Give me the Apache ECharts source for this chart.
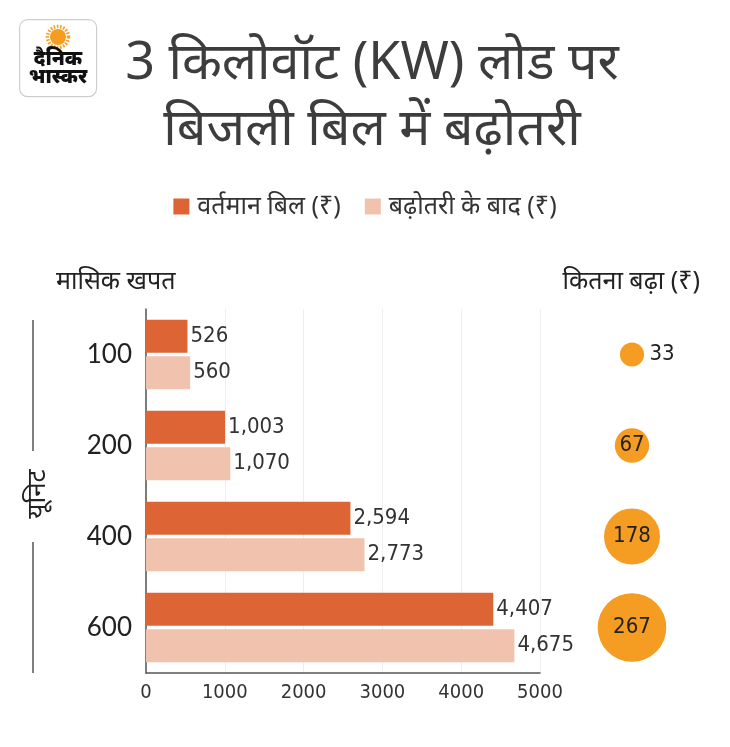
<!DOCTYPE html>
<html>
<head>
<meta charset="utf-8">
<title>3 किलोवॉट (KW) लोड पर बिजली बिल में बढ़ोतरी</title>
<script src="https://cdn.jsdelivr.net/npm/echarts@6/dist/echarts.min.js"></script>
<style>
  html, body { margin: 0; padding: 0; background: #fff; }
  #chart { width: 730px; height: 747px; }
</style>
</head>
<body>
<div id="chart"></div>
<script>
// units per month
const units = ['100', '200', '400', '600']
// current bill (₹)
const currentBill = [526, 1003, 2594, 4407]
// bill after the hike (₹)
const newBill = [560, 1070, 2773, 4675]
// how much it went up (₹)
const hike = [33, 67, 178, 267]
const xTicks = [0, 1000, 2000, 3000, 4000, 5000]

const dark = '#DD6535'
const light = '#F1C2AE'
const sun = '#F59C22'
const narrow = "'DejaVu Sans Condensed', 'Liberation Sans Narrow', 'Roboto', sans-serif"
const hindi = "'Noto Sans', 'Noto Sans Devanagari', sans-serif"

const fmt = v => v.toLocaleString('en-US')

const chart = echarts.init(document.getElementById('chart'))

const option = {
  backgroundColor: '#fff',
  animation: false,
  title: {
    text: '3 किलोवॉट (KW) लोड पर\nबिजली बिल में बढ़ोतरी',
    left: 367,
    top: 26,
    textAlign: 'center',
    textStyle: { fontFamily: hindi, fontSize: 52, fontWeight: 'normal', color: '#3d3d3d', lineHeight: 66 }
  },
  legend: {
    top: 189,
    left: 'center',
    itemWidth: 16,
    itemHeight: 16,
    itemGap: 24,
    icon: 'rect',
    textStyle: { fontFamily: hindi, fontSize: 25, color: '#333', padding: [0, 0, 0, 3] },
    data: ['वर्तमान बिल (₹)', 'बढ़ोतरी के बाद (₹)']
  },
  grid: [
    { left: 146, right: 190, top: 309, bottom: 74 },
    { left: 562, right: 28, top: 309, bottom: 74 }
  ],
  xAxis: [
    {
      type: 'value',
      gridIndex: 0,
      min: xTicks[0],
      max: xTicks[xTicks.length - 1],
      interval: 1000,
      axisLine: { show: true, lineStyle: { color: '#555', width: 1.5 } },
      axisTick: { show: false },
      splitLine: { show: true, lineStyle: { color: '#eeeeee' } },
      axisLabel: { fontFamily: narrow, fontSize: 20, color: '#333', margin: 10, formatter: v => String(v) }
    },
    {
      type: 'category',
      gridIndex: 1,
      data: ['कितना बढ़ा'],
      show: false
    }
  ],
  yAxis: [
    {
      type: 'category',
      gridIndex: 0,
      inverse: true,
      data: units,
      axisLine: { show: true, lineStyle: { color: '#555', width: 1.5 } },
      axisTick: { show: false },
      axisLabel: { fontFamily: "'Lato', sans-serif", fontSize: 26, color: '#222', margin: 14 }
    },
    {
      type: 'category',
      gridIndex: 1,
      inverse: true,
      data: units,
      show: false
    }
  ],
  series: [
    {
      name: 'वर्तमान बिल (₹)',
      type: 'bar',
      data: currentBill,
      barWidth: 33,
      barGap: '10%',
      itemStyle: { color: dark },
      label: {
        show: true, position: 'right', distance: 3,
        fontFamily: narrow, fontSize: 22, color: '#333',
        formatter: p => fmt(p.value)
      }
    },
    {
      name: 'बढ़ोतरी के बाद (₹)',
      type: 'bar',
      data: newBill,
      barWidth: 33,
      barGap: '10%',
      itemStyle: { color: light },
      label: {
        show: true, position: 'right', distance: 3,
        fontFamily: narrow, fontSize: 22, color: '#333',
        formatter: p => fmt(p.value)
      }
    },
    {
      name: 'कितना बढ़ा (₹)',
      type: 'scatter',
      xAxisIndex: 1,
      yAxisIndex: 1,
      data: hike.map((v, i) => [0, i, v]),
      symbolSize: d => 4.2 * Math.sqrt(d[2]),
      itemStyle: { color: sun, opacity: 1 },
      label: {
        show: true,
        position: 'inside',
        fontFamily: narrow, fontSize: 22, color: '#222',
        formatter: p => String(p.value[2])
      },
      labelLayout: p => (p.dataIndex === 0 ? { dx: 30 } : {})
    }
  ],
  graphic: [
    // logo
    {
      type: 'rect', left: 19, top: 19,
      shape: { width: 77, height: 77, r: 8 },
      style: { fill: '#fff', stroke: '#cfcfcf', lineWidth: 1.2 }
    },
    {
      type: 'circle', x: 58, y: 37,
      shape: { r: 8 },
      style: { fill: sun }
    },
    {
      type: 'circle', x: 58, y: 37,
      shape: { r: 10.5 },
      style: { fill: 'none', stroke: sun, lineWidth: 3.5, lineDash: [1.6, 1.6] }
    },
    {
      type: 'text', x: 58, y: 50,
      style: {
        text: 'दैनिक\nभास्कर', align: 'center', verticalAlign: 'top',
        fontFamily: hindi, fontSize: 20, fontWeight: 900, lineHeight: 18, fill: '#111'
      }
    },
    // column headers
    {
      type: 'text', x: 56, y: 282,
      style: { text: 'मासिक खपत', verticalAlign: 'middle', fontFamily: hindi, fontSize: 25, fill: '#222' }
    },
    {
      type: 'text', x: 700, y: 282,
      style: { text: 'कितना बढ़ा (₹)', align: 'right', verticalAlign: 'middle', fontFamily: hindi, fontSize: 25, fill: '#222' }
    },
    // left "यूनिट" bracket
    {
      type: 'line',
      shape: { x1: 33, y1: 320, x2: 33, y2: 451 },
      style: { stroke: '#555', lineWidth: 1.5 }
    },
    {
      type: 'line',
      shape: { x1: 33, y1: 542, x2: 33, y2: 673 },
      style: { stroke: '#555', lineWidth: 1.5 }
    },
    {
      type: 'text', x: 38, y: 494, rotation: Math.PI / 2,
      style: { text: 'यूनिट', align: 'center', verticalAlign: 'middle', fontFamily: hindi, fontSize: 26, fill: '#222' }
    }
  ]
}

chart.setOption(option)
</script>
</body>
</html>
